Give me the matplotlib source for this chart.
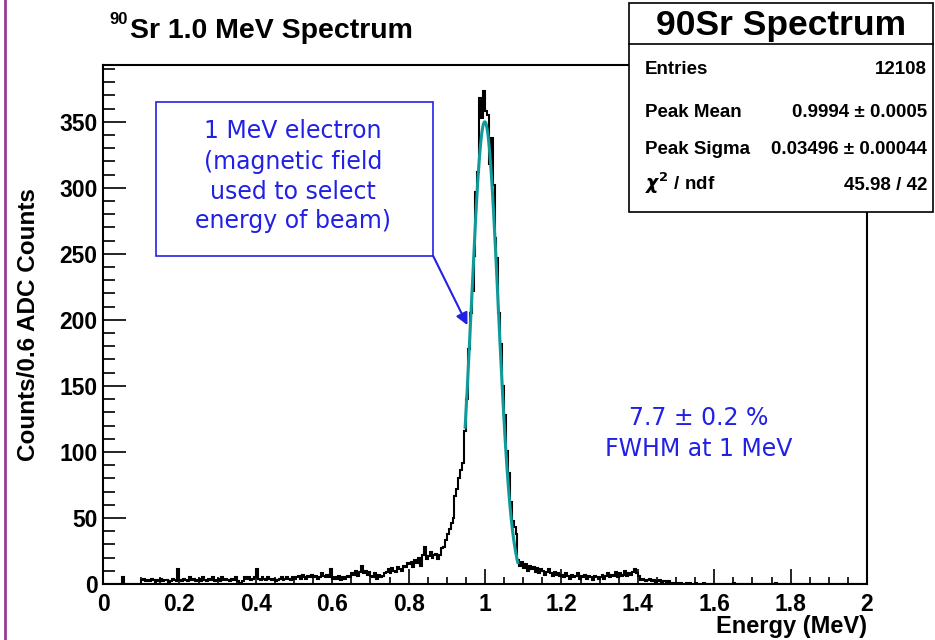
import numpy as np
import matplotlib
matplotlib.use('Agg')
import matplotlib.pyplot as plt
from matplotlib.patches import Rectangle
from matplotlib.lines import Line2D
from matplotlib.ticker import MultipleLocator

plt.rcParams['font.family'] = ['Liberation Sans', 'DejaVu Sans']
plt.rcParams['font.weight'] = 'bold'
plt.rcParams['axes.labelweight'] = 'bold'

bin_width = 0.005
counts_start = 0.10
counts_low = [3, 4, 2, 3, 2, 4, 3, 1, 3, 2, 4, 2, 3, 3, 1, 2, 4, 3, 2, 11,
              3, 2, 4, 3, 2, 5, 3, 4, 2, 3, 4, 2, 5, 3, 2, 4, 3, 5, 2, 3,
              4, 2, 5, 3, 4, 3, 2, 4, 3, 5, 2, 1, 1, 2, 5, 4, 5, 3, 4, 5,
              11, 4, 3, 5, 4, 3, 5, 4, 3, 4, 2, 3, 4, 5, 3, 4, 5, 4, 3, 5]
counts_rise = [4, 5, 6, 4, 7, 5, 4, 6, 5, 7, 5, 6, 4, 5, 8, 6, 5, 7, 5, 11,
               4, 5, 4, 6, 3, 5, 4, 5, 6, 5, 8, 7, 10, 6, 9, 14, 8, 10, 7, 9,
               6, 5, 8, 4, 7, 5, 6, 8, 9, 11, 8, 12, 10, 9, 13, 11, 10, 14, 13, 16,
               15, 17, 13, 18, 16, 20, 14, 22, 28, 19, 21, 24, 20, 22, 23, 19, 22, 27, 28, 33]
counts_peak = [38, 42, 46, 50, 67, 72, 80, 86, 92, 116, 140, 178, 205, 222, 248, 297, 312, 368, 353, 373,
               358, 355, 318, 338, 302, 262, 247, 205, 182, 150, 128, 101, 84, 62, 48, 43, 38, 18, 14, 17]
counts_tail = [12, 15, 10, 14, 11, 13, 9, 12, 8, 11, 10, 7, 9, 11, 8, 6, 9, 7, 8, 6,
               7, 5, 8, 6, 4, 7, 5, 6, 8, 4, 6, 5, 7, 4, 6, 5, 3, 6, 5, 4,
               5, 7, 4, 6, 8, 5, 7, 6, 9, 5, 8, 6, 7, 10, 6, 8, 7, 9, 11, 8,
               6, 3, 4, 3, 2, 3, 4, 2, 3, 1, 2, 3, 1, 2, 2, 1, 2, 1, 1, 0,
               1, 0, 1, 0, 0, 1, 0, 1, 0, 0, 1, 0, 0, 0, 1, 0, 0, 0, 0, 0]
stray_energy = [0.05, 1.65, 1.76]
stray_counts = [5, 1, 1]

# gaussian fit shown in the stats box
fit_amp = 350
fit_mean = 0.9994
fit_sigma = 0.03496
fit_lo, fit_hi = 0.948, 1.086

x_ticks = [0, 0.2, 0.4, 0.6, 0.8, 1.0, 1.2, 1.4, 1.6, 1.8, 2.0]
x_tick_labels = ['0', '0.2', '0.4', '0.6', '0.8', '1', '1.2', '1.4', '1.6', '1.8', '2']
y_ticks = [0, 50, 100, 150, 200, 250, 300, 350]

stat_names = ['Entries', 'Peak Mean', 'Peak Sigma', r'$\chi^{2}$ / ndf']
stat_values = ['12108', u'0.9994 \u00b1 0.0005', u'0.03496 \u00b1 0.00044', '45.98 / 42']

blue = '#2121e6'
W, H = 935, 640

edges = np.round(np.arange(0, 2.0 + bin_width / 2, bin_width), 4)
counts = np.zeros(len(edges) - 1)
i0 = int(round(counts_start / bin_width))
seg = counts_low + counts_rise + counts_peak + counts_tail
counts[i0:i0 + len(seg)] = seg
for e, c in zip(stray_energy, stray_counts):
    counts[int(round(e / bin_width))] = c

fig = plt.figure(figsize=(9.35, 6.4), dpi=100)
ax = fig.add_axes([103 / W, 56 / H, 764 / W, 519 / H])

ax.stairs(counts, edges, color='black', lw=1.5)
xf = np.linspace(fit_lo, fit_hi, 200)
yf = fit_amp * np.exp(-0.5 * ((xf - fit_mean) / fit_sigma) ** 2)
ax.plot(xf, yf, color='#109a9a', lw=2.2)

ax.set_xlim(0, 2)
ax.set_ylim(0, 393)
ax.set_xticks(x_ticks)
ax.set_xticklabels(x_tick_labels)
ax.set_yticks(y_ticks)
ax.xaxis.set_minor_locator(MultipleLocator(0.05))
ax.yaxis.set_minor_locator(MultipleLocator(10))
ax.tick_params(axis='x', which='major', direction='in', length=10.5, width=1.2, pad=6.5, labelsize=16.5)
ax.tick_params(axis='x', which='minor', direction='in', length=5.3, width=1.2)
ax.tick_params(axis='y', which='major', direction='in', length=16.3, width=1.2, pad=4, labelsize=16.5)
ax.tick_params(axis='y', which='minor', direction='in', length=8.4, width=1.2)
for s in ax.spines.values():
    s.set_linewidth(1.5)

ax.set_xlabel('Energy (MeV)', loc='right', fontsize=17, fontweight='bold', va='baseline')
ax.xaxis.set_label_coords(1.0, (584 - 633) / 519)
ax.set_ylabel('Counts/0.6 ADC Counts', fontsize=17.5, fontweight='bold')
ax.yaxis.set_label_coords((35 - 103) / 764, 0.5)
ax.yaxis.label.set_va('baseline')

ax.set_title('Sr 1.0 MeV Spectrum', loc='left', x=(130 - 103) / 764, y=(584 - 38.3) / 519,
             pad=0, fontsize=20.5, fontweight='bold')
ax.text((109 - 103) / 764, (584 - 24) / 519, '90', transform=ax.transAxes,
        fontsize=12, va='baseline', ha='left')

# annotation box and arrow
ax.add_patch(Rectangle((0.0698, 0.632), 0.4322 - 0.0698, 0.9293 - 0.632, transform=ax.transAxes,
                       facecolor='white', edgecolor=blue, lw=1.2, clip_on=False, zorder=4))
note_lines = ['1 MeV electron', '(magnetic field', 'used to select', 'energy of beam)']
for txt, yb in zip(note_lines, [0.8588, 0.7996, 0.7418, 0.6854]):
    ax.text(0.2487, yb, txt, transform=ax.transAxes, ha='center', va='baseline',
            fontsize=17, family='DejaVu Sans', fontweight='normal', color=blue, zorder=5)
ax.annotate('', xy=(0.954, 196), xycoords='data', xytext=(0.4322, 0.632), textcoords='axes fraction',
            arrowprops=dict(arrowstyle='-|>,head_length=0.6,head_width=0.3', color=blue, lw=1.5,
                            shrinkA=0, shrinkB=0, mutation_scale=12))

ax.text(0.780, 0.3064, u'7.7 \u00b1 0.2 %', transform=ax.transAxes, ha='center', va='baseline',
        fontsize=17, family='DejaVu Sans', fontweight='normal', color=blue)
ax.text(0.780, 0.2472, 'FWHM at 1 MeV', transform=ax.transAxes, ha='center', va='baseline',
        fontsize=17, family='DejaVu Sans', fontweight='normal', color=blue)

# stats box
fig.add_artist(Rectangle((629 / W, 1 - 212 / H), (933 - 629) / W, (212 - 3) / H, transform=fig.transFigure,
                         facecolor='white', edgecolor='black', lw=1.2, zorder=5))
fig.add_artist(Line2D([629 / W, 933 / W], [1 - 44 / H, 1 - 44 / H], transform=fig.transFigure,
                      color='black', lw=1.2, zorder=6))
fig.text(781 / W, 1 - 35 / H, '90Sr Spectrum', ha='center', va='baseline', fontsize=25.5, zorder=7)
for name, val, yb in zip(stat_names, stat_values, [74, 116.7, 154, 190.5]):
    fig.text(645 / W, 1 - yb / H, name, ha='left', va='baseline', fontsize=13.5, zorder=7)
    fig.text(927 / W, 1 - yb / H, val, ha='right', va='baseline', fontsize=13.5, zorder=7)

# purple edge on the left of the picture
fig.add_artist(Line2D([4.5 / W, 4.5 / W], [0, 1], transform=fig.transFigure, color='#953c95', lw=2))

fig.savefig('out.png', dpi=100)
